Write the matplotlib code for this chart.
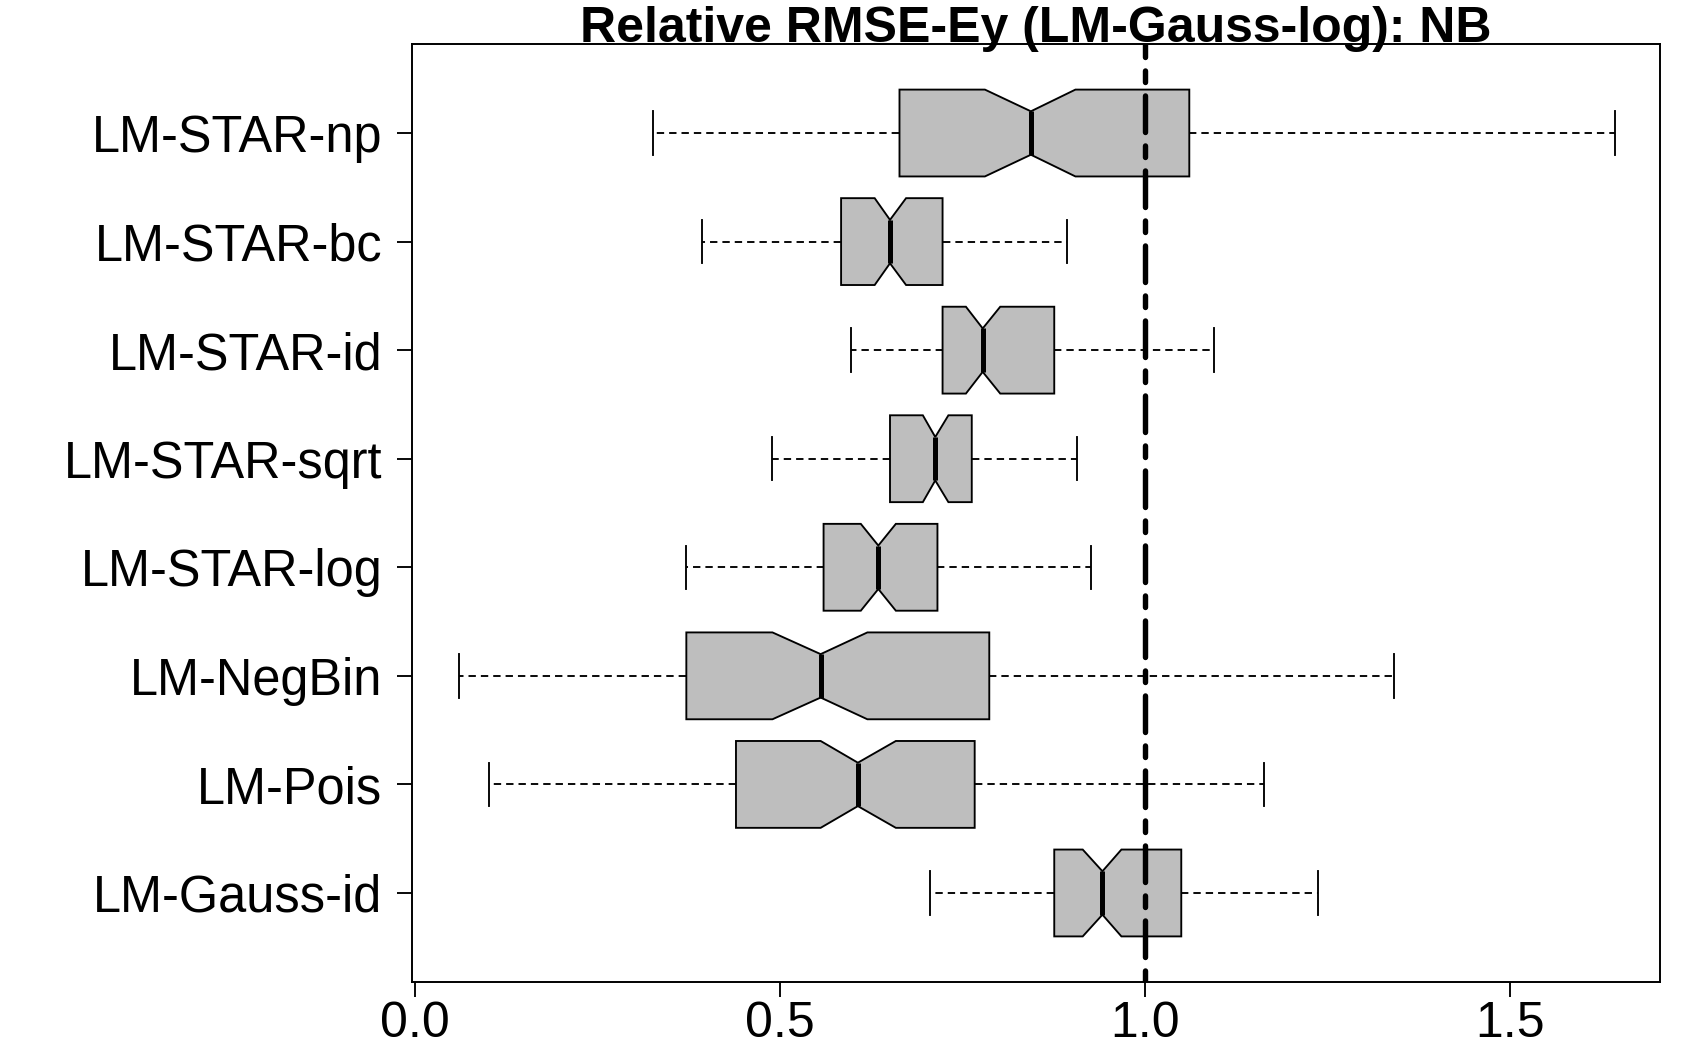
import matplotlib
matplotlib.use("Agg")
import matplotlib.pyplot as plt

# ---------------- data ----------------
categories = ["LM-Gauss-id", "LM-Pois", "LM-NegBin", "LM-STAR-log",
              "LM-STAR-sqrt", "LM-STAR-id", "LM-STAR-bc", "LM-STAR-np"]
whisker_low = [0.706, 0.101, 0.060, 0.371, 0.490, 0.598, 0.393, 0.326]
q1 = [0.876, 0.440, 0.372, 0.560, 0.651, 0.723, 0.584, 0.664]
notch_low = [0.915, 0.556, 0.490, 0.611, 0.696, 0.755, 0.630, 0.781]
median = [0.942, 0.607, 0.556, 0.635, 0.713, 0.778, 0.651, 0.844]
notch_high = [0.968, 0.659, 0.620, 0.659, 0.731, 0.802, 0.673, 0.905]
q3 = [1.050, 0.767, 0.787, 0.716, 0.763, 0.876, 0.723, 1.061]
whisker_high = [1.237, 1.164, 1.342, 0.927, 0.907, 1.095, 0.893, 1.644]
ref_value = 1.0
x_ticks = [0.0, 0.5, 1.0, 1.5]
x_ticklabels = ["0.0", "0.5", "1.0", "1.5"]
title = "Relative RMSE-Ey (LM-Gauss-log): NB"

# ---------------- style ----------------
plt.rcParams["font.family"] = ["Liberation Sans", "DejaVu Sans"]
plt.rcParams["lines.scale_dashes"] = False

W, H = 1692, 1058
fig = plt.figure(figsize=(W / 100, H / 100), dpi=100)
left, right, top, bottom = 412, 1660, 44, 982
ax = fig.add_axes([left / W, 1 - bottom / H, (right - left) / W, (bottom - top) / H])

stats = []
for i, lab in enumerate(categories):
    stats.append(dict(label=lab, med=median[i], q1=q1[i], q3=q3[i],
                      whislo=whisker_low[i], whishi=whisker_high[i],
                      cilo=notch_low[i], cihi=notch_high[i], fliers=[]))

positions = list(range(1, len(categories) + 1))
lw = 1.35
kw = dict(positions=positions, widths=0.8, shownotches=True, patch_artist=True,
          showfliers=False, capwidths=0.4,
          boxprops=dict(facecolor="#BEBEBE", edgecolor="black", linewidth=lw),
          whiskerprops=dict(color="black", linewidth=lw, linestyle=(0, (5.3, 3.6))),
          capprops=dict(color="black", linewidth=lw),
          medianprops=dict(color="black", linewidth=3.6, solid_capstyle="butt"))
try:
    ax.bxp(stats, orientation="horizontal", **kw)
except TypeError:
    ax.bxp(stats, vert=False, **kw)

ax.axvline(ref_value, color="black", linewidth=3.9,
           linestyle=(0, (8.3, 9.7, 26.3, 9.7)), dash_capstyle="round", zorder=5)

ax.set_xlim(-0.0038, 1.7058)
ax.set_ylim(0.18, 8.82)
ax.set_xticks(x_ticks)
ax.set_xticklabels(x_ticklabels)
ax.set_yticks(positions)
ax.set_yticklabels(categories)
ax.tick_params(axis="both", direction="out", length=10.8, width=1.35, colors="black")
ax.tick_params(axis="y", labelsize=36.4, pad=10.5)
ax.tick_params(axis="x", labelsize=36, pad=3)
for s in ax.spines.values():
    s.set_linewidth(1.4)
    s.set_color("black")

fig.text((left + right) / 2 / W, 1 - 41.5 / H, title, fontsize=36, fontweight="bold",
         ha="center", va="baseline")

fig.savefig("out.png", dpi=100)
